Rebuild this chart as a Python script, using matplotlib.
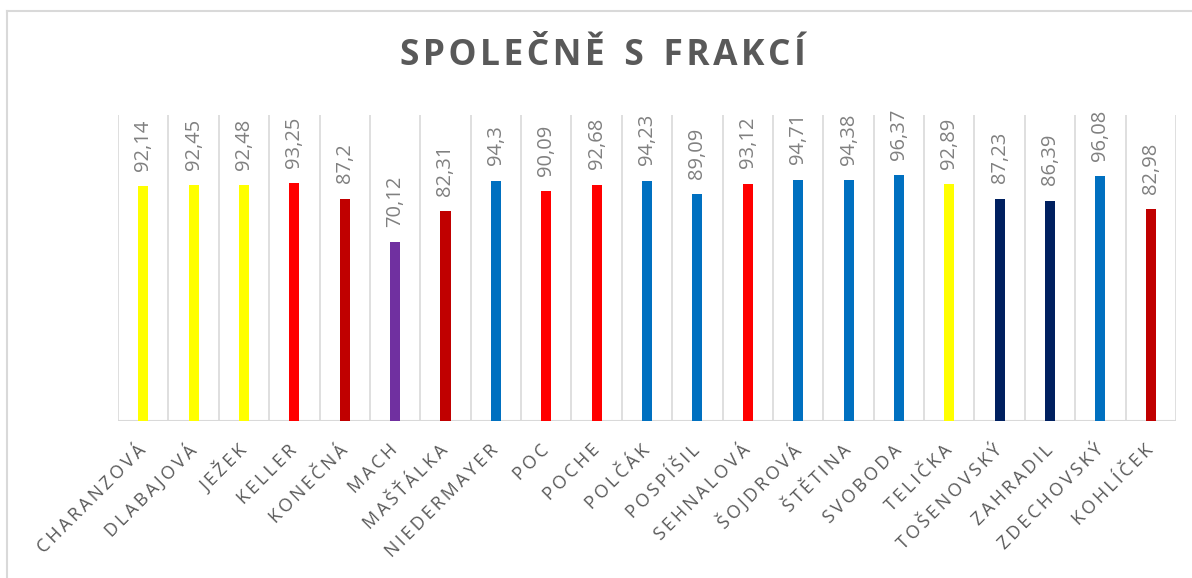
import matplotlib.pyplot as plt
from matplotlib.lines import Line2D

names = ["CHARANZOVÁ", "DLABAJOVÁ", "JEŽEK", "KELLER", "KONEČNÁ", "MACH",
         "MAŠŤÁLKA", "NIEDERMAYER", "POC", "POCHE", "POLČÁK", "POSPÍŠIL",
         "SEHNALOVÁ", "ŠOJDROVÁ", "ŠTĚTINA", "SVOBODA", "TELIČKA",
         "TOŠENOVSKÝ", "ZAHRADIL", "ZDECHOVSKÝ", "KOHLÍČEK"]
values = [92.14, 92.45, 92.48, 93.25, 87.2, 70.12, 82.31, 94.3, 90.09, 92.68,
          94.23, 89.09, 93.12, 94.71, 94.38, 96.37, 92.89, 87.23, 86.39,
          96.08, 82.98]
bar_colors = ["#FFFF00", "#FFFF00", "#FFFF00", "#FF0000", "#C00000", "#7030A0",
              "#C00000", "#0070C0", "#FF0000", "#FF0000", "#0070C0", "#0070C0",
              "#FF0000", "#0070C0", "#0070C0", "#0070C0", "#FFFF00",
              "#002060", "#002060", "#0070C0", "#C00000"]
title = "SPOLEČNĚ S FRAKCÍ"

FONT = ["Open Sans", "DejaVu Sans"]


def spaced(s, gap):
    # fake letter spacing; real spaces become wider gaps
    return " ".join(gap.join(w) for w in s.split(" ")).replace(" ", gap * 3 + " ")


fig = plt.figure(figsize=(11.92, 5.78), dpi=100)
ax = fig.add_axes([0.099, 0.2716, 0.8876, 0.5294])

x = list(range(len(names)))
ax.bar(x, values, width=0.2, color=bar_colors, zorder=3)

for xi, v in zip(x, values):
    ax.annotate(f"{v:g}".replace(".", ","), (xi, v), xytext=(0, 11),
                textcoords="offset points", rotation=90, ha="center",
                va="bottom", fontsize=14.5, color="#808080", family=FONT)

ax.set_xlim(-0.5, len(names) - 0.5)
ax.set_ylim(0, 120)

# vertical separators between categories
for b in range(len(names) + 1):
    ax.axvline(b - 0.5, color="#D9D9D9", lw=1.2, zorder=1)
ax.axhline(0, color="#D9D9D9", lw=1.5, zorder=2)

for s in ax.spines.values():
    s.set_visible(False)
ax.set_yticks([])
ax.set_xticks(x)
ax.set_xticklabels([spaced(n, "\u2009") for n in names], rotation=45,
                   ha="right", va="center", rotation_mode="anchor",
                   fontsize=13, color="#595959", family=FONT)
ax.tick_params(axis="x", length=0, pad=19)

fig.text(0.506, 0.903, spaced(title, "\u200a"), ha="center", va="center",
         fontsize=25.5, fontweight="bold", color="#595959", family=FONT)

# chart frame (cropped at right and bottom)
fig.add_artist(Line2D([0.006, 1.0], [0.981, 0.981], color="#D9D9D9", lw=1.5,
                      transform=fig.transFigure))
fig.add_artist(Line2D([0.006, 0.006], [0.0, 0.981], color="#D9D9D9", lw=1.5,
                      transform=fig.transFigure))

fig.savefig("out.png", dpi=100, facecolor="white")
